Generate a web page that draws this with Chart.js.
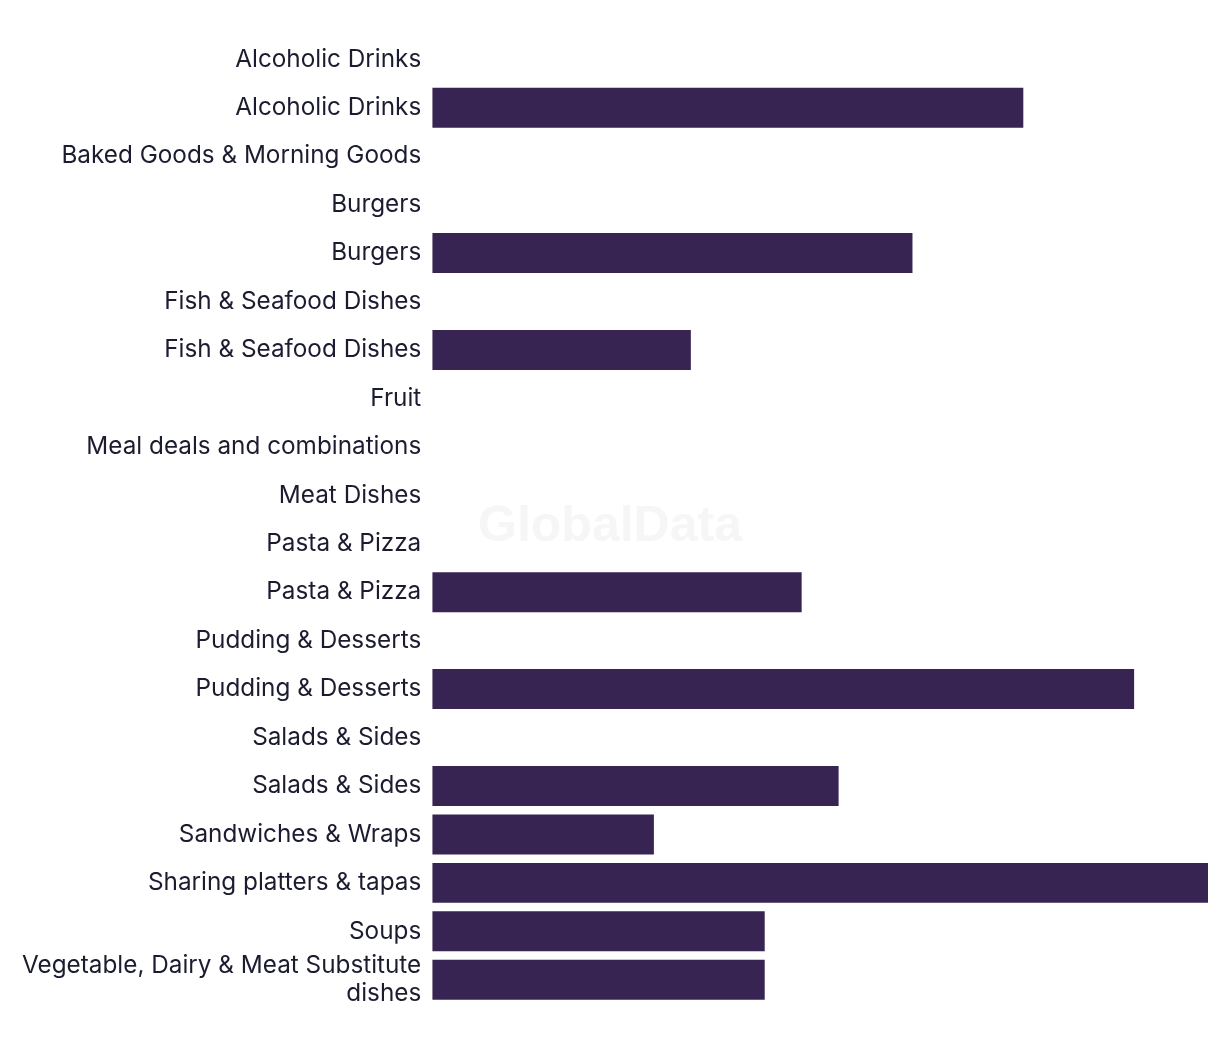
<!DOCTYPE html>
<html>
<head>
<meta charset="utf-8">
<script src="https://cdn.jsdelivr.net/npm/chart.js@4"></script>
<style>
  html, body { margin: 0; padding: 0; background: #ffffff; }
  #wrap { width: 1220px; height: 1054px; position: relative; }
</style>
</head>
<body>
<div id="wrap"><canvas id="chart"></canvas></div>
<script>
const categories = [
   "Alcoholic Drinks",
   "Alcoholic Drinks",
   "Baked Goods & Morning Goods",
   "Burgers",
   "Burgers",
   "Fish & Seafood Dishes",
   "Fish & Seafood Dishes",
   "Fruit",
   "Meal deals and combinations",
   "Meat Dishes",
   "Pasta & Pizza",
   "Pasta & Pizza",
   "Pudding & Desserts",
   "Pudding & Desserts",
   "Salads & Sides",
   "Salads & Sides",
   "Sandwiches & Wraps",
   "Sharing platters & tapas",
   "Soups",
   ["Vegetable, Dairy & Meat Substitute", "dishes"],
];
const values = [0, 16, 0, 0, 13, 0, 7, 0, 0, 0, 0, 10, 0, 19, 0, 11, 6, 21, 9, 9];

const barColor = "#372452";
const textColor = "#1c1c30";

// Wasserzeichen in der Mitte
const watermark = {
   id: "watermark",
   beforeDatasetsDraw(chart) {
      const ctx = chart.ctx;
      ctx.save();
      ctx.font = "bold 50px 'Liberation Sans', Arial, sans-serif";
      ctx.fillStyle = "#f6f6f6";
      ctx.textAlign = "center";
      ctx.textBaseline = "middle";
      ctx.fillText("GlobalData", chart.width / 2, chart.height / 2);
      ctx.restore();
   },
};

new Chart(document.getElementById("chart"), {
   type: "bar",
   data: {
      labels: categories,
      datasets: [
         {
            data: values,
            backgroundColor: barColor,
            borderWidth: 0,
            categoryPercentage: 1,
            barPercentage: 0.825,
         },
      ],
   },
   options: {
      indexAxis: "y",
      responsive: true,
      maintainAspectRatio: false,
      animation: false,
      layout: { padding: { top: 35, bottom: 50, right: 12, left: 19 } },
      scales: {
         x: {
            min: 0,
            max: 21,
            display: false,
            grid: { display: false },
         },
         y: {
            grid: { display: false },
            border: { display: false },
            ticks: {
               color: textColor,
               padding: 3,
               autoSkip: false,
               font: { family: "Inter, 'Liberation Sans', sans-serif", size: 24.3, lineHeight: 1.155 },
            },
         },
      },
      plugins: {
         legend: { display: false },
         tooltip: { enabled: false },
      },
   },
   plugins: [watermark],
});
</script>
</body>
</html>
